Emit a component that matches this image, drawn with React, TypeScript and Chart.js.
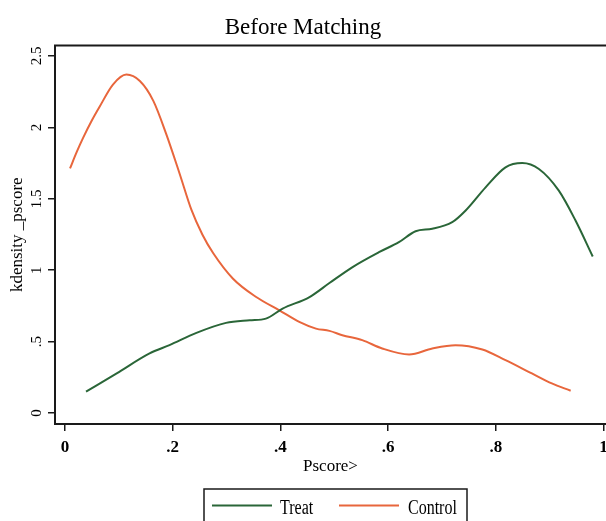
import React, { useEffect, useRef } from "react";
import { Chart, registerables } from "chart.js";

Chart.register(...registerables);

const TITLE = "Before Matching";
const X_TITLE = "Pscore>";
const Y_TITLE = "kdensity _pscore";
const X_TICKS = [0, 0.2, 0.4, 0.6, 0.8, 1];
const X_TICK_LABELS = ["0", ".2", ".4", ".6", ".8", "1"];
const Y_TICKS = [0, 0.5, 1, 1.5, 2, 2.5];
const Y_TICK_LABELS = ["0", ".5", "1", "1.5", "2", "2.5"];
const SERIES_NAMES = ["Treat", "Control"];

const treatX = [0.039, 0.096, 0.157, 0.194, 0.244, 0.299, 0.343, 0.373, 0.404, 0.454, 0.491, 0.534, 0.583, 0.62, 0.651, 0.682, 0.719, 0.744, 0.781, 0.818, 0.849, 0.88, 0.917, 0.948, 0.98];
const treatY = [0.149, 0.277, 0.417, 0.475, 0.561, 0.631, 0.649, 0.661, 0.731, 0.812, 0.91, 1.022, 1.126, 1.196, 1.273, 1.29, 1.336, 1.418, 1.58, 1.72, 1.75, 1.709, 1.557, 1.348, 1.096];

const controlX = [0.0093, 0.022, 0.034, 0.05, 0.065, 0.089, 0.114, 0.139, 0.164, 0.188, 0.213, 0.235, 0.255, 0.275, 0.312, 0.355, 0.398, 0.435, 0.466, 0.491, 0.515, 0.552, 0.589, 0.639, 0.682, 0.725, 0.775, 0.818, 0.867, 0.904, 0.939];
const controlY = [1.713, 1.83, 1.93, 2.05, 2.15, 2.3, 2.37, 2.325, 2.186, 1.953, 1.674, 1.42, 1.25, 1.12, 0.94, 0.812, 0.719, 0.638, 0.591, 0.575, 0.545, 0.51, 0.452, 0.41, 0.452, 0.475, 0.445, 0.37, 0.277, 0.207, 0.156];

const COLORS = ["#2a6638", "#e8663c"];
const SERIF = "'Liberation Serif', 'Times New Roman', serif";
const AXIS = "#1a1a1a";
const TEXT = "#000";

export default function App() {
  const ref = useRef<HTMLCanvasElement | null>(null);

  useEffect(() => {
    if (!ref.current) return;
    const toPts = (xs: number[], ys: number[]) => xs.map((x, i) => ({ x, y: ys[i] }));

    const framePlugin = {
      id: "frame",
      afterDraw(chart: any) {
        const { ctx, chartArea } = chart;
        ctx.save();
        ctx.strokeStyle = AXIS;
        ctx.lineWidth = 2;
        ctx.beginPath();
        ctx.moveTo(chartArea.left - 1, chartArea.top);
        ctx.lineTo(chartArea.right, chartArea.top);
        ctx.stroke();
        ctx.restore();
      },
    };

    const legendPlugin = {
      id: "boxLegend",
      afterDraw(chart: any) {
        const { ctx, chartArea } = chart;
        const cx = (chartArea.left + chartArea.right) / 2 + 5;
        const left = cx - 131.5;
        const top = 489;
        ctx.save();
        ctx.strokeStyle = AXIS;
        ctx.lineWidth = 1.5;
        ctx.strokeRect(left, top, 263, 60);
        const items = [
          { lx: left + 8, tx: left + 76 },
          { lx: left + 135, tx: left + 204 },
        ];
        items.forEach((it, i) => {
          ctx.strokeStyle = COLORS[i];
          ctx.lineWidth = 2;
          ctx.beginPath();
          ctx.moveTo(it.lx, 505.5);
          ctx.lineTo(it.lx + 60, 505.5);
          ctx.stroke();
          ctx.save();
          ctx.translate(it.tx, 514);
          ctx.scale(1, 1.3);
          ctx.fillStyle = TEXT;
          ctx.font = `16px ${SERIF}`;
          ctx.textBaseline = "alphabetic";
          ctx.textAlign = "left";
          ctx.fillText(SERIES_NAMES[i], 0, 0);
          ctx.restore();
        });
        ctx.restore();
      },
    };

    const chart = new Chart(ref.current, {
      type: "line",
      data: {
        datasets: [
          {
            label: SERIES_NAMES[0],
            data: toPts(treatX, treatY),
            borderColor: COLORS[0],
            borderWidth: 2,
            pointRadius: 0,
            cubicInterpolationMode: "monotone",
            fill: false,
          },
          {
            label: SERIES_NAMES[1],
            data: toPts(controlX, controlY),
            borderColor: COLORS[1],
            borderWidth: 2,
            pointRadius: 0,
            cubicInterpolationMode: "monotone",
            fill: false,
          },
        ],
      },
      options: {
        animation: false,
        responsive: false,
        maintainAspectRatio: false,
        devicePixelRatio: 1,
        layout: { padding: 0 },
        font: { family: SERIF },
        plugins: {
          legend: { display: false },
          tooltip: { enabled: false },
          title: {
            display: true,
            text: TITLE,
            color: TEXT,
            font: { family: SERIF, size: 23, weight: "normal", lineHeight: 1.2 },
            padding: { top: 14.2, bottom: 3.7 },
          },
        },
        scales: {
          x: {
            type: "linear",
            min: -0.0186,
            max: 1.0046,
            afterBuildTicks: (s: any) => {
              s.ticks = X_TICKS.map((v) => ({ value: v }));
            },
            afterFit: (s: any) => {
              s.height = 97;
              s.paddingLeft = 0;
              s.paddingRight = 0;
            },
            ticks: {
              autoSkip: false,
              maxRotation: 0,
              minRotation: 0,
              padding: 6,
              color: TEXT,
              font: { family: SERIF, size: 17, weight: "bold", lineHeight: 1.2 },
              callback: (_v: any, i: number) => X_TICK_LABELS[i],
            },
            grid: {
              display: true,
              drawOnChartArea: false,
              drawTicks: true,
              tickLength: 7,
              color: AXIS,
              lineWidth: 1.5,
            },
            border: { display: true, color: AXIS, width: 2 },
            title: {
              display: true,
              text: X_TITLE,
              color: TEXT,
              font: { family: SERIF, size: 17, lineHeight: 1.2 },
              padding: { top: 0, bottom: 43.8 },
            },
          },
          y: {
            type: "linear",
            min: -0.077,
            max: 2.5735,
            afterBuildTicks: (s: any) => {
              s.ticks = Y_TICKS.map((v) => ({ value: v }));
            },
            afterFit: (s: any) => {
              s.width = 55;
              s.paddingTop = 0;
              s.paddingBottom = 0;
            },
            ticks: {
              autoSkip: false,
              minRotation: 90,
              maxRotation: 90,
              crossAlign: "center",
              padding: 2,
              color: TEXT,
              font: { family: SERIF, size: 15, lineHeight: 1.2 },
              callback: (_v: any, i: number) => Y_TICK_LABELS[i],
            },
            grid: {
              display: true,
              drawOnChartArea: false,
              drawTicks: true,
              tickLength: 7,
              color: AXIS,
              lineWidth: 1.5,
            },
            border: { display: true, color: AXIS, width: 2 },
            title: {
              display: true,
              text: Y_TITLE,
              color: TEXT,
              font: { family: SERIF, size: 17, lineHeight: 1.2 },
              padding: { top: 7.8, bottom: 0 },
            },
          },
        },
      },
      plugins: [framePlugin, legendPlugin],
    } as any);

    return () => chart.destroy();
  }, []);

  return (
    <div style={{ position: "fixed", left: 0, top: 0, width: 606, height: 521, background: "#fff" }}>
      <canvas ref={ref} width={606} height={521} style={{ width: 606, height: 521, display: "block" }} />
    </div>
  );
}
